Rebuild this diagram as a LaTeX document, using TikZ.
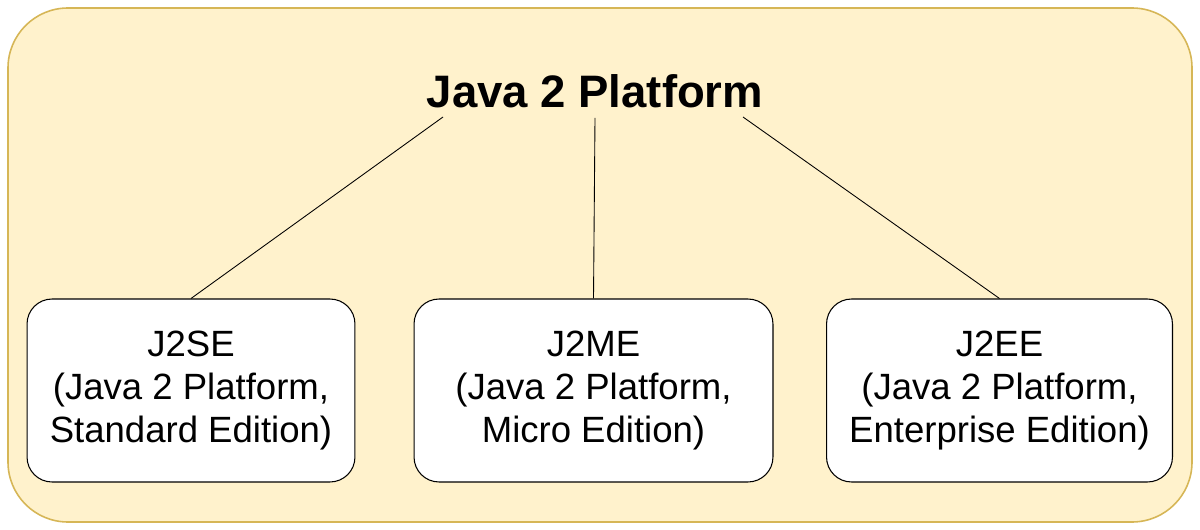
\documentclass[tikz,border=0pt]{standalone}
\usepackage{fontspec}
\setmainfont{Liberation Sans}
\usetikzlibrary{positioning}
\definecolor{paleyellow}{HTML}{FFF2CC}
\definecolor{goldline}{HTML}{D6B656}

\begin{document}
\begin{tikzpicture}[
            x=0.02cm, y=-0.02cm,
            frame/.style={draw=goldline, fill=paleyellow, line width=0.9pt, rounded corners=1.2cm},
            edition/.style={draw=black, fill=white, line width=0.6pt, rounded corners=0.5cm, minimum height=3.66cm, align=center, font=\fontsize{20.8}{24.5}\selectfont},
            link/.style={draw=black, line width=0.5pt}
        ]
            \useasboundingbox (0,0) rectangle (1200,530);
            \draw[frame] (8,8) rectangle (1192,522);

            \node[font=\fontsize{25.9}{31}\selectfont\bfseries] (platform) at (595,91) {Java 2 Platform};

            \node[edition, minimum width=6.56cm] (j2se) at (191,390.5) {J2SE\\(Java 2 Platform,\\Standard Edition)};
            \node[edition, minimum width=7.18cm] (j2me) at (593.5,390.5) {J2ME\\(Java 2 Platform,\\Micro Edition)};
            \node[edition, minimum width=6.92cm] (j2ee) at (999.5,390.5) {J2EE\\(Java 2 Platform,\\Enterprise Edition)};

            \coordinate (leftfoot) at (443,117);
            \coordinate (midfoot) at (595,118);
            \coordinate (rightfoot) at (743,117);

            \draw[link] (leftfoot) -- (j2se.north);
            \draw[link] (midfoot) -- (j2me.north);
            \draw[link] (rightfoot) -- (j2ee.north);
        \end{tikzpicture}
\end{document}
